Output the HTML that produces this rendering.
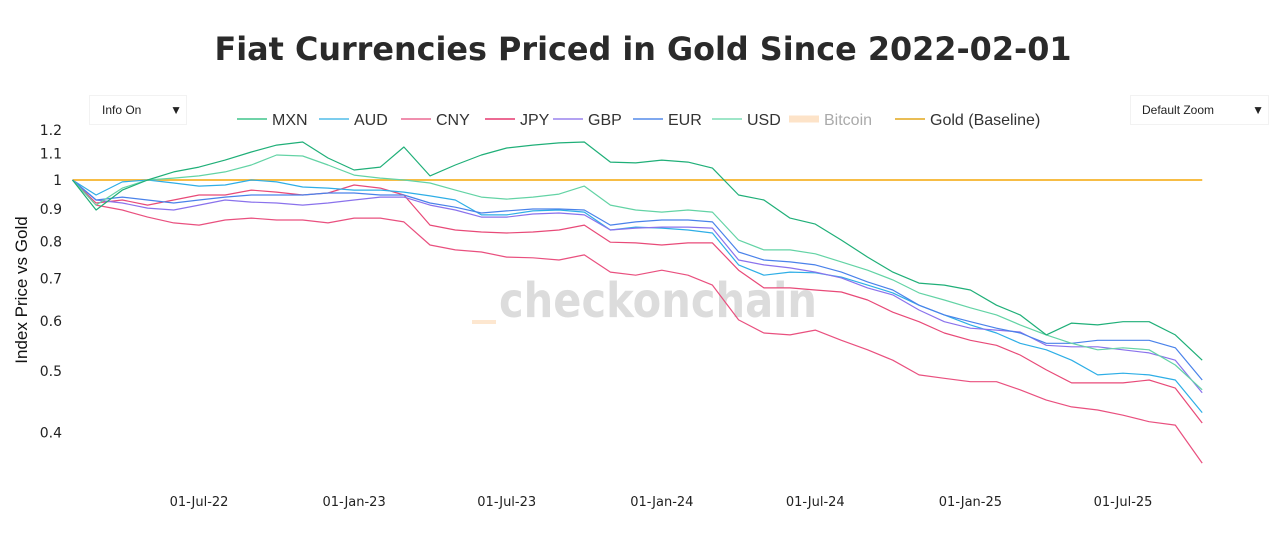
<!DOCTYPE html>
<html><head><meta charset="utf-8">
<style>
body{margin:0;background:#fff;font-family:"Liberation Sans",sans-serif;}
#wrap{position:relative;width:1280px;height:551px;overflow:hidden;}
.dd{position:absolute;font-size:12px;color:#222;border:1px solid #f2f2f2;background:#fff;}
</style></head>
<body>
<div id="wrap">
<div class="dd" style="left:89px;top:95px;width:84px;height:28px;line-height:28px;padding-left:12px;">Info On <span style="position:absolute;right:4px;">▼</span></div>
<div class="dd" style="left:1130px;top:95px;width:126px;height:28px;line-height:28px;padding-left:11px;">Default Zoom <span style="position:absolute;right:4px;">▼</span></div>
<svg id="chart" width="1280" height="551" style="position:absolute;left:0;top:0;pointer-events:none"></svg>
</div>
<script>
const dates = ["2022-02-01","2022-03-01","2022-04-01","2022-05-01","2022-06-01","2022-07-01","2022-08-01","2022-09-01","2022-10-01","2022-11-01","2022-12-01","2023-01-01","2023-02-01","2023-03-01","2023-04-01","2023-05-01","2023-06-01","2023-07-01","2023-08-01","2023-09-01","2023-10-01","2023-11-01","2023-12-01","2024-01-01","2024-02-01","2024-03-01","2024-04-01","2024-05-01","2024-06-01","2024-07-01","2024-08-01","2024-09-01","2024-10-01","2024-11-01","2024-12-01","2025-01-01","2025-02-01","2025-03-01","2025-04-01","2025-05-01","2025-06-01","2025-07-01","2025-08-01","2025-09-01","2025-10-03"];
const mxn = [1,0.897,0.964,1.0,1.03,1.048,1.075,1.107,1.135,1.148,1.083,1.037,1.048,1.127,1.015,1.056,1.095,1.123,1.135,1.144,1.148,1.067,1.064,1.075,1.067,1.044,0.947,0.930,0.871,0.852,0.804,0.756,0.716,0.688,0.683,0.671,0.635,0.613,0.570,0.595,0.591,0.598,0.598,0.570,0.520];
const usd = [1,0.913,0.971,1.0,1.007,1.015,1.030,1.056,1.095,1.091,1.056,1.018,1.007,1.0,0.989,0.964,0.940,0.933,0.940,0.950,0.978,0.913,0.897,0.890,0.897,0.890,0.804,0.776,0.776,0.765,0.743,0.721,0.696,0.664,0.647,0.629,0.613,0.591,0.570,0.553,0.540,0.544,0.540,0.511,0.467];
const aud = [1,0.947,0.993,1.0,0.989,0.978,0.982,1.0,0.993,0.975,0.971,0.964,0.964,0.957,0.944,0.930,0.881,0.881,0.894,0.897,0.890,0.834,0.843,0.840,0.834,0.825,0.735,0.708,0.716,0.714,0.703,0.683,0.664,0.635,0.613,0.591,0.574,0.553,0.540,0.520,0.493,0.496,0.493,0.484,0.430];
const eur = [1,0.930,0.940,0.930,0.920,0.930,0.940,0.947,0.947,0.947,0.954,0.954,0.947,0.947,0.920,0.906,0.887,0.894,0.900,0.900,0.897,0.849,0.859,0.865,0.865,0.859,0.770,0.748,0.743,0.735,0.716,0.691,0.671,0.635,0.613,0.598,0.584,0.574,0.553,0.553,0.559,0.559,0.559,0.544,0.484];
const gbp = [1,0.930,0.920,0.903,0.897,0.913,0.930,0.923,0.920,0.913,0.920,0.930,0.940,0.940,0.913,0.897,0.874,0.874,0.884,0.887,0.881,0.834,0.840,0.843,0.843,0.840,0.748,0.735,0.727,0.716,0.701,0.676,0.659,0.624,0.598,0.584,0.580,0.576,0.549,0.546,0.546,0.540,0.534,0.520,0.462];
const cny = [1,0.920,0.930,0.913,0.930,0.947,0.947,0.964,0.957,0.947,0.954,0.982,0.971,0.947,0.849,0.834,0.828,0.825,0.828,0.834,0.849,0.798,0.796,0.790,0.796,0.796,0.721,0.676,0.676,0.671,0.666,0.647,0.619,0.598,0.574,0.559,0.549,0.530,0.502,0.479,0.479,0.479,0.484,0.470,0.414];
const jpy = [1,0.913,0.897,0.874,0.856,0.849,0.865,0.871,0.865,0.865,0.856,0.871,0.871,0.859,0.790,0.776,0.770,0.756,0.754,0.748,0.762,0.716,0.708,0.721,0.708,0.683,0.602,0.574,0.570,0.580,0.559,0.540,0.520,0.493,0.487,0.481,0.481,0.467,0.450,0.439,0.434,0.426,0.416,0.411,0.358];
const gold = [1,1];
const yTicks = [0.4,0.5,0.6,0.7,0.8,0.9,1,1.1,1.2];
const yTickLabels = ["0.4","0.5","0.6","0.7","0.8","0.9","1","1.1","1.2"];
const xTicks = ["2022-07-01","2023-01-01","2023-07-01","2024-01-01","2024-07-01","2025-01-01","2025-07-01"];
const xTickLabels = ["01-Jul-22","01-Jan-23","01-Jul-23","01-Jan-24","01-Jul-24","01-Jan-25","01-Jul-25"];

const svg = document.getElementById('chart');
const NS = 'http://www.w3.org/2000/svg';
const day = s => Date.parse(s)/86400000;
const d0 = day("2022-07-01");
const X = s => 199 + (day(s)-d0)*(924/1096);
const Y = v => 180 - Math.log(v)*275.6;
function mk(tag, attrs, text){const e=document.createElementNS(NS,tag);for(const k in attrs)e.setAttribute(k,attrs[k]);if(text!==undefined)e.textContent=text;svg.appendChild(e);return e;}

let t = mk('text',{x:643,y:60,'text-anchor':'middle','font-size':32,'font-weight':'bold',fill:'#2a2a2a','font-family':'DejaVu Sans, sans-serif',textLength:857,lengthAdjust:'spacingAndGlyphs'},'Fiat Currencies Priced in Gold Since 2022-02-01');



let wm = mk('text',{x:658,y:317,'text-anchor':'middle','font-size':48,'font-weight':'bold',fill:'#dcdcdc','font-family':'DejaVu Sans, sans-serif',textLength:318,lengthAdjust:'spacingAndGlyphs'},'checkonchain');


let wmb = mk('rect',{x:472,y:320,width:24,height:4,fill:'#fde7d0'});



let yt = mk('text',{x:0,y:0,transform:'translate(27,290) rotate(-90)','text-anchor':'middle','font-size':17,fill:'#111'},'Index Price vs Gold');



yTicks.forEach((v,i)=>{
  const e = mk('text',{x:62,y:Y(v)+5,'text-anchor':'end','font-size':14,fill:'#222','font-family':'DejaVu Sans, sans-serif'},yTickLabels[i]);
  
  
});
xTicks.forEach((d,i)=>{
  const e = mk('text',{x:X(d),y:506,'text-anchor':'middle','font-size':13,fill:'#222','font-family':'DejaVu Sans, sans-serif'},xTickLabels[i]);
  
  
});

const g = mk('line',{x1:X(dates[0]),x2:X(dates[dates.length-1]),y1:Y(gold[0]),y2:Y(gold[1]),stroke:'#f7bd45','stroke-width':2});



const series = [
 ['jpy',jpy,'#e9507f'],['cny',cny,'#e84a78'],['aud',aud,'#2eaee6'],['gbp',gbp,'#8a72ec'],
 ['eur',eur,'#4a82ea'],['usd',usd,'#63d3a5'],['mxn',mxn,'#1faf78']];
series.forEach(([n,arr,c])=>{
  const pts = arr.map((v,i)=>X(dates[i]).toFixed(1)+','+Y(v).toFixed(1)).join(' ');
  const p = mk('polyline',{points:pts,fill:'none',stroke:c,'stroke-width':1.2,'stroke-linejoin':'round'});
  
  
});

const legend = [['MXN',237,'#6fd3a8','#333',2],['AUD',319,'#7ccdee','#333',2],['CNY',401,'#f08fae','#333',2],['JPY',485,'#ec6a93','#333',2],['GBP',553,'#b3a2f2','#333',2],['EUR',633,'#7fa8ef','#333',2],['USD',712,'#9ee6c8','#333',2],['Bitcoin',789,'#fde3c8','#aaa',7],['Gold (Baseline)',895,'#e9bd55','#333',2]];
legend.forEach(([name,x,lc,tc,w])=>{
  const l = mk('line',{x1:x,x2:x+30,y1:119,y2:119,stroke:lc,'stroke-width':w});
  
  
  const tx = mk('text',{x:x+35,y:125,'font-size':16,fill:tc},name);
  
  
});
</script>
</body></html>
